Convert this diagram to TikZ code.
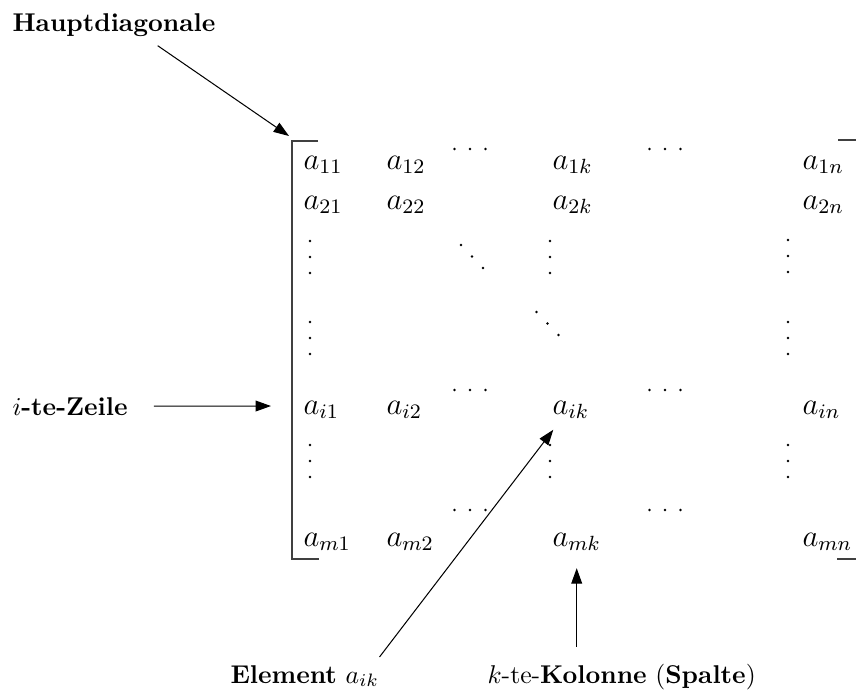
\documentclass[tikz,border=0pt]{standalone}
\usepackage{amsmath}
\usetikzlibrary{arrows.meta, calc}

\tikzset{
  entry/.style={anchor=west, inner sep=0pt, font=\fontsize{11.5}{14}\selectfont},
  caption/.style={anchor=base west, inner sep=0pt},
  bracket/.style={black!75, line width=0.6pt},
  arr/.style={-{Triangle[length=6pt, width=4.2pt]}, thin},
}

\begin{document}
\begin{tikzpicture}[x=0.389pt, y=-0.389pt]
    \useasboundingbox (0,0) rectangle (856,693);
    % Bracket
    \draw[bracket] (318,141) -- (292,141) -- (292,559) -- (319,559);
    \draw[bracket] (838,140) -- (856,140);
    \draw[bracket] (837,559) -- (856,559);
    \coordinate (corner) at (289,136);
    \coordinate (rowtip) at (271,406);
    % Entries
    \foreach \r/\y in {1/165, 2/205, i/410, m/542}
        \foreach \c/\x in {1/303, 2/386, k/552, n/802}
            \node[entry] (a\r\c) at (\x,\y) {$a_{\r\c}$};
    % Horizontal dots
    \foreach \y in {149, 390, 510}
        \foreach \x in {470, 665}
            \foreach \d in {-15.5, 0, 15.5}
                \fill (\x+\d,\y) circle[radius=0.55pt];
    % Vertical dots
    \foreach \x/\y in {310/257, 550/257, 788/256, 310/338, 788/338, 310/461, 550/461, 788/461}
        \foreach \d in {-16, 0, 16}
            \fill (\x,\y+\d) circle[radius=0.55pt];
    % Diagonal dots
    \foreach \x/\y in {472/256.5, 547.5/323.5}
        \foreach \d in {-1, 0, 1}
            \fill (\x+11*\d,\y+11.5*\d) circle[radius=0.55pt];
    % Labels
    \node[caption] (hd) at (12,31) {\textbf{Hauptdiagonale}};
    \node[caption] (zl) at (12,415) {$i$\textbf{-te-Zeile}};
    \node[caption] (el) at (230,683) {\textbf{Element} $a_{ik}$};
    \node[caption] (kol) at (487,683) {$k$-te-\textbf{Kolonne} (\textbf{Spalte})};
    % Arrows
    \draw[arr] ([shift={(17pt,-3.5pt)}]hd.south) -- (corner);
    \draw[arr] ([xshift=10pt]zl.east) -- (rowtip);
    \draw[arr] ([shift={(0pt,3pt)}]el.north east) -- ([shift={(0.5pt,-4pt)}]aik.south west);
    \draw[arr] ($(amk.south |- kol.north)+(0,6.5pt)$) -- ([yshift=-6.5pt]amk.south);
\end{tikzpicture}
\end{document}
